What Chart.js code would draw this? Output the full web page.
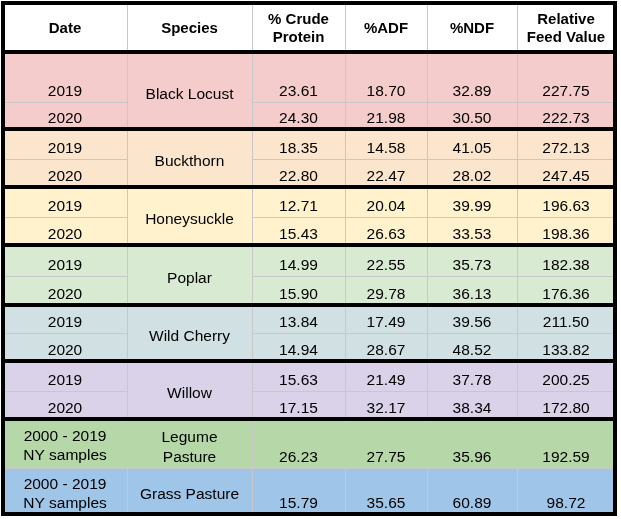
<!DOCTYPE html>
<html>
<head>
<meta charset="utf-8">
<script src="https://cdn.jsdelivr.net/npm/chart.js@4"></script>
<style>
  html, body { margin: 0; padding: 0; background: #fff; }
  #wrap { width: 621px; height: 519px; }
</style>
</head>
<body>
<div id="wrap"><canvas id="tableChart" width="621" height="519"></canvas></div>
<script>
// Data tabel
const headers = ['Date', 'Species', '% Crude\nProtein', '%ADF', '%NDF', 'Relative\nFeed Value'];
const dates = ['2019', '2020', '2019', '2020', '2019', '2020', '2019', '2020', '2019', '2020', '2019', '2020',
               '2000 - 2019\nNY samples', '2000 - 2019\nNY samples'];
const species = ['Black Locust', 'Buckthorn', 'Honeysuckle', 'Poplar', 'Wild Cherry', 'Willow', 'Legume\nPasture', 'Grass Pasture'];
const crudeProtein = [23.61, 24.30, 18.35, 22.80, 12.71, 15.43, 14.99, 15.90, 13.84, 14.94, 15.63, 17.15, 26.23, 15.79];
const adf = [18.70, 21.98, 14.58, 22.47, 20.04, 26.63, 22.55, 29.78, 17.49, 28.67, 21.49, 32.17, 27.75, 35.65];
const ndf = [32.89, 30.50, 41.05, 28.02, 39.99, 33.53, 35.73, 36.13, 39.56, 48.52, 37.78, 38.34, 35.96, 60.89];
const rfv = [227.75, 222.73, 272.13, 247.45, 196.63, 198.36, 182.38, 176.36, 211.50, 133.82, 200.25, 172.80, 192.59, 98.72];

// Layout (piksel)
const colEdges = [3, 127, 252, 345, 427, 517, 615];
const groupColors = ['#f4cccc', '#fce5cd', '#fff2cc', '#d9ead3', '#d0e0e3', '#d9d2e9', '#b6d7a8', '#9fc5e8'];
// tiap grup: [atas, bawah, pembagi baris atau null]
const groupBounds = [[52, 129, 102], [129, 187, 159], [187, 245, 217], [245, 305, 276],
                     [305, 361, 333], [361, 419, 391], [419, 468, null], [468, 514, null]];

function rowsOf(g) {
  const [t, b, s] = groupBounds[g];
  return s ? [[t, s], [s, b]] : [[t, b]];
}

const tablePlugin = {
  id: 'tablePlugin',
  afterDraw(chart) {
    const ctx = chart.ctx;
    ctx.save();
    const left = colEdges[0], right = colEdges[colEdges.length - 1];

    // latar grup
    groupBounds.forEach(([t, b], g) => {
      ctx.fillStyle = groupColors[g];
      ctx.fillRect(left, t, right - left, b - t);
    });

    // garis tipis
    ctx.strokeStyle = '#c8c8c8';
    ctx.lineWidth = 1;
    colEdges.slice(1, -1).forEach(x => {
      ctx.beginPath(); ctx.moveTo(x + 0.5, 3); ctx.lineTo(x + 0.5, 514); ctx.stroke();
    });
    groupBounds.forEach(([t, b, s], g) => {
      if (s) {
        [[colEdges[0], colEdges[1]], [colEdges[2], right]].forEach(([a, c]) => {
          ctx.beginPath(); ctx.moveTo(a, s + 0.5); ctx.lineTo(c, s + 0.5); ctx.stroke();
        });
      }
    });
    ctx.beginPath(); ctx.moveTo(left, 468.5); ctx.lineTo(right, 468.5); ctx.stroke();

    // garis tebal
    ctx.strokeStyle = '#000';
    ctx.lineWidth = 4;
    ctx.strokeRect(left, 3, right - left, 511);
    [52, 129, 187, 245, 305, 361, 419].forEach(y => {
      ctx.beginPath(); ctx.moveTo(left, y); ctx.lineTo(right, y); ctx.stroke();
    });

    ctx.fillStyle = '#000';
    ctx.textAlign = 'center';
    ctx.textBaseline = 'alphabetic';
    const cx = i => (colEdges[i] + colEdges[i + 1]) / 2;
    const multi = (text, x, yc, lh) => {
      const lines = text.split('\n');
      lines.forEach((ln, k) => {
        ctx.fillText(ln, x, yc + (k - (lines.length - 1) / 2) * lh + 6);
      });
    };

    // header
    ctx.font = 'bold 15px "Liberation Sans", Arial, sans-serif';
    headers.forEach((h, i) => multi(h, cx(i), 27, 18));

    // isi
    ctx.font = '15.5px "Liberation Sans", Arial, sans-serif';
    let r = 0;
    groupBounds.forEach((gb, g) => {
      multi(species[g], cx(1), (gb[0] + gb[1]) / 2 + 2, 20);
      rowsOf(g).forEach(([t, b]) => {
        const base = b - 6;
        if (dates[r].includes('\n')) {
          multi(dates[r], cx(0), (t + b) / 2 + 1, 19);
        } else {
          ctx.fillText(dates[r], cx(0), base);
        }
        [crudeProtein, adf, ndf, rfv].forEach((arr, k) => {
          ctx.fillText(arr[r].toFixed(2), cx(k + 2), base);
        });
        r++;
      });
    });
    ctx.restore();
  }
};

new Chart(document.getElementById('tableChart'), {
  type: 'bar',
  data: { labels: [], datasets: [] },
  options: {
    responsive: false,
    animation: false,
    events: [],
    plugins: { legend: { display: false }, tooltip: { enabled: false } },
    scales: { x: { display: false }, y: { display: false } }
  },
  plugins: [tablePlugin]
});
</script>
</body>
</html>
